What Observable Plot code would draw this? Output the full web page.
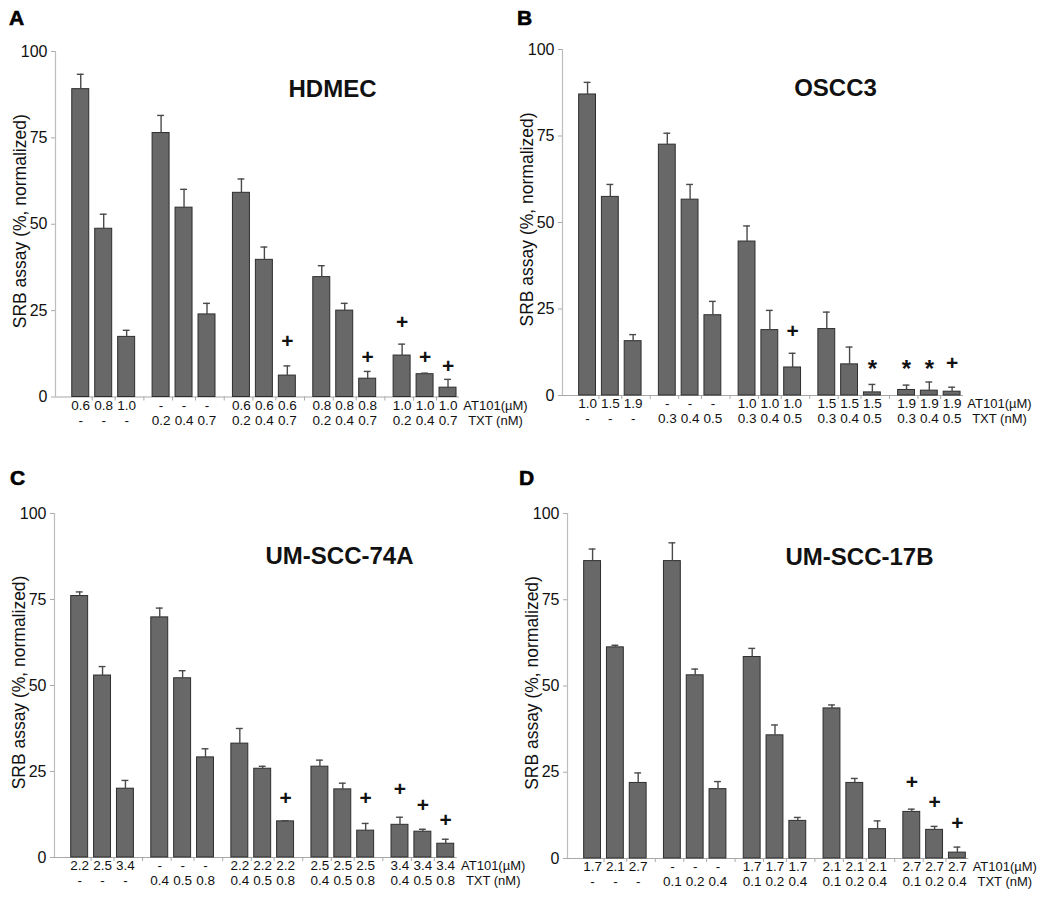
<!DOCTYPE html>
<html>
<head>
<meta charset="utf-8">
<script src="https://cdn.jsdelivr.net/npm/d3@7"></script>
<script src="https://cdn.jsdelivr.net/npm/@observablehq/plot@0.6"></script>
<style>
  body { margin: 0; background: #fff; }
  #fig { position: relative; width: 1050px; height: 899px; overflow: hidden; background: #fff;
         font-family: "Liberation Sans", Arial, sans-serif; }
  .panel { position: absolute; }
  .letter { position: absolute; font: bold 21px "Liberation Sans", Arial, sans-serif; line-height: 1; -webkit-text-stroke: 0.6px #000; }
</style>
</head>
<body>
<div id="fig"></div>
<script>
// ---------- data ----------
const panelLetters = ["A", "B", "C", "D"];
const cellLines = ["HDMEC", "OSCC3", "UM-SCC-74A", "UM-SCC-17B"];

const at101LabelsA = ["0.6","0.8","1.0","-","-","-","0.6","0.6","0.6","0.8","0.8","0.8","1.0","1.0","1.0"];
const txtLabelsA   = ["-","-","-","0.2","0.4","0.7","0.2","0.4","0.7","0.2","0.4","0.7","0.2","0.4","0.7"];
const meanA = [89.1, 48.7, 17.4, 76.4, 54.8, 23.9, 59.1, 39.7, 6.2, 34.7, 25.0, 5.3, 12.0, 6.6, 2.7];
const sdA   = [4.3, 4.2, 1.9, 5.1, 5.3, 3.2, 4.0, 3.7, 2.8, 3.3, 2.1, 2.1, 3.3, 0.3, 2.4];
const sigBarsA = [8, 11, 12, 13, 14];
const sigSymA  = ["+", "+", "+", "+", "+"];
const sigYA    = [16.2, 11.6, 21.5, 11.6, 9.0];

const at101LabelsB = ["1.0","1.5","1.9","-","-","-","1.0","1.0","1.0","1.5","1.5","1.5","1.9","1.9","1.9"];
const txtLabelsB   = ["-","-","-","0.3","0.4","0.5","0.3","0.4","0.5","0.3","0.4","0.5","0.3","0.4","0.5"];
const meanB = [87.0, 57.4, 15.7, 72.5, 56.6, 23.2, 44.5, 18.9, 8.1, 19.2, 9.0, 0.9, 1.6, 1.4, 1.1];
const sdB   = [3.5, 3.6, 1.9, 3.3, 4.4, 4.0, 4.5, 5.7, 4.1, 4.9, 5.0, 2.3, 1.4, 2.5, 1.3];
const sigBarsB = [8, 11, 12, 13, 14];
const sigSymB  = ["+", "*", "*", "*", "+"];
const sigYB    = [18.5, 9.2, 9.2, 9.4, 9.2];

const at101LabelsC = ["2.2","2.5","3.4","-","-","-","2.2","2.2","2.2","2.5","2.5","2.5","3.4","3.4","3.4"];
const txtLabelsC   = ["-","-","-","0.4","0.5","0.8","0.4","0.5","0.8","0.4","0.5","0.8","0.4","0.5","0.8"];
const meanC = [76.0, 52.9, 20.0, 69.8, 52.1, 29.1, 33.1, 25.8, 10.5, 26.4, 19.8, 7.8, 9.5, 7.5, 4.0];
const sdC   = [1.2, 2.6, 2.4, 2.7, 2.2, 2.5, 4.4, 0.7, 0.2, 1.9, 1.8, 2.1, 2.2, 0.7, 1.3];
const sigBarsC = [8, 11, 12, 13, 14];
const sigSymC  = ["+", "+", "+", "+", "+"];
const sigYC    = [17.2, 17.2, 19.9, 15.1, 10.9];

const at101LabelsD = ["1.7","2.1","2.7","-","-","-","1.7","1.7","1.7","2.1","2.1","2.1","2.7","2.7","2.7"];
const txtLabelsD   = ["-","-","-","0.1","0.2","0.4","0.1","0.2","0.4","0.1","0.2","0.4","0.1","0.2","0.4"];
const meanD = [86.2, 61.2, 21.9, 86.2, 53.1, 20.1, 58.4, 35.7, 10.9, 43.5, 21.9, 8.5, 13.5, 8.3, 1.7];
const sdD   = [3.5, 0.6, 2.9, 5.3, 1.8, 2.2, 2.5, 3.0, 1.0, 1.0, 1.3, 2.4, 0.8, 1.0, 1.6];
const sigBarsD = [12, 13, 14];
const sigSymD  = ["+", "+", "+"];
const sigYD    = [22.0, 16.4, 10.1];

const yTicks = [0, 25, 50, 75, 100];
const rowLabels = ["AT101(\u00b5M)", "TXT (nM)"];
const yTitle = "SRB assay (%, normalized)";

// ---------- layout (pixels, not data) ----------
const layout = [
  {axisX: 55,    axisEnd: 459,   y100: 50.5,  y0: 396,   titleDx: 277, titleDy: 45.5, letterX: 9,   letterTop: 7},
  {axisX: 561.7, axisEnd: 962.7, y100: 49,    y0: 395,   titleDx: 273, titleDy: 46,   letterX: 517, letterTop: 7},
  {axisX: 54.3,  axisEnd: 457,   y100: 512.7, y0: 856.7, titleDx: 285, titleDy: 50.6, letterX: 10,  letterTop: 467},
  {axisX: 566.7, axisEnd: 968,   y100: 512.7, y0: 857.7, titleDx: 292, titleDy: 51.3, letterX: 519, letterTop: 467}
];

const panelData = [
  {at: at101LabelsA, txt: txtLabelsA, mean: meanA, sd: sdA, sigBars: sigBarsA, sigSym: sigSymA, sigY: sigYA},
  {at: at101LabelsB, txt: txtLabelsB, mean: meanB, sd: sdB, sigBars: sigBarsB, sigSym: sigSymB, sigY: sigYB},
  {at: at101LabelsC, txt: txtLabelsC, mean: meanC, sd: sdC, sigBars: sigBarsC, sigSym: sigSymC, sigY: sigYC},
  {at: at101LabelsD, txt: txtLabelsD, mean: meanD, sd: sdD, sigBars: sigBarsD, sigSym: sigSymD, sigY: sigYD}
];

const groupSize = 3;
const groupGap = 0.5;
const xDomain = [-1.1, 16.5];
const ML = 55, MT = 50, MB = 44, MR = 80;

const fig = document.getElementById("fig");

panelData.forEach((p, pi) => {
  const L = layout[pi];
  const bars = p.mean.map((m, i) => ({
    pos: i + groupGap * Math.floor(i / groupSize),
    mean: m,
    top: m + p.sd[i],
    at: p.at[i],
    txt: p.txt[i]
  }));
  const bounds = bars.slice(1).map((b, i) => (b.pos + bars[i].pos) / 2);
  const sig = p.sigBars.map((bi, k) => ({pos: bars[bi].pos, y: p.sigY[k], sym: p.sigSym[k]}));

  const width = ML + (L.axisEnd - L.axisX) + MR;
  const height = MT + (L.y0 - L.y100) + MB;

  const svg = Plot.plot({
    width, height,
    marginLeft: ML, marginRight: MR, marginTop: MT, marginBottom: MB,
    style: {background: "transparent", overflow: "visible", fontFamily: "'Liberation Sans', Arial, sans-serif", color: "#111"},
    x: {domain: xDomain},
    y: {domain: [0, 100]},
    marks: [
      // axis lines
      Plot.ruleX([xDomain[0]], {y1: 0, y2: 100, stroke: "#bdbdbd", strokeWidth: 1.2}),
      Plot.ruleY([0], {stroke: "#a8a8a8", strokeWidth: 1.2}),
      Plot.axisY({ticks: yTicks, tickSize: 4, tickPadding: 4, fontSize: 16, stroke: "#aaa", fill: "#111", label: null}),
      Plot.axisX({ticks: bounds, tickSize: 4, tickFormat: () => "", stroke: "#aaa", label: null}),
      // bars
      Plot.rectY(bars, {x1: d => d.pos - 0.37, x2: d => d.pos + 0.37, y: "mean", fill: "#686868", stroke: "#2e2e2e", strokeWidth: 1}),
      // error bars (upper)
      Plot.ruleX(bars, {x: "pos", y1: "mean", y2: "top", stroke: "#4a4a4a", strokeWidth: 1.4}),
      Plot.ruleY(bars, {y: "top", x1: d => d.pos - 0.15, x2: d => d.pos + 0.15, stroke: "#4a4a4a", strokeWidth: 1.4}),
      // significance markers
      Plot.text(sig.filter(d => d.sym === "+"), {x: "pos", y: "y", text: "sym", fontSize: 21, fontWeight: "bold", fill: "#111"}),
      Plot.text(sig.filter(d => d.sym === "*"), {x: "pos", y: "y", text: "sym", fontSize: 24, fontWeight: "bold", fill: "#111", dy: 6}),
      // category labels (two rows)
      Plot.text(bars, {x: "pos", frameAnchor: "bottom", dy: 12.5, text: "at", fontSize: 13.5, fill: "#111"}),
      Plot.text(bars, {x: "pos", frameAnchor: "bottom", dy: 27.5, text: "txt", fontSize: 13.5, fill: "#111"}),
      Plot.text([rowLabels[0]], {text: d => d, frameAnchor: "bottom-right", dx: 36, dy: 12.5, textAnchor: "middle", fontSize: 13, fill: "#111"}),
      Plot.text([rowLabels[1]], {text: d => d, frameAnchor: "bottom-right", dx: 36, dy: 27.5, textAnchor: "middle", fontSize: 13, fill: "#111"}),
      // y title
      Plot.text([yTitle], {text: d => d, frameAnchor: "left", rotate: -90, dx: -29.5, dy: -3, lineAnchor: "bottom", textAnchor: "middle", fontSize: 17.5, fill: "#111"}),
      // panel title
      Plot.text([cellLines[pi]], {text: d => d, frameAnchor: "top-left", dx: L.titleDx, dy: L.titleDy, lineAnchor: "bottom", textAnchor: "middle", fontSize: 24, fontWeight: "bold", fill: "#111"})
    ]
  });

  const div = document.createElement("div");
  div.className = "panel";
  div.style.left = (L.axisX - ML) + "px";
  div.style.top = (L.y100 - MT) + "px";
  div.appendChild(svg);
  fig.appendChild(div);

  const letter = document.createElement("div");
  letter.className = "letter";
  letter.textContent = panelLetters[pi];
  letter.style.left = L.letterX + "px";
  letter.style.top = L.letterTop + "px";
  fig.appendChild(letter);
});
</script>
</body>
</html>
